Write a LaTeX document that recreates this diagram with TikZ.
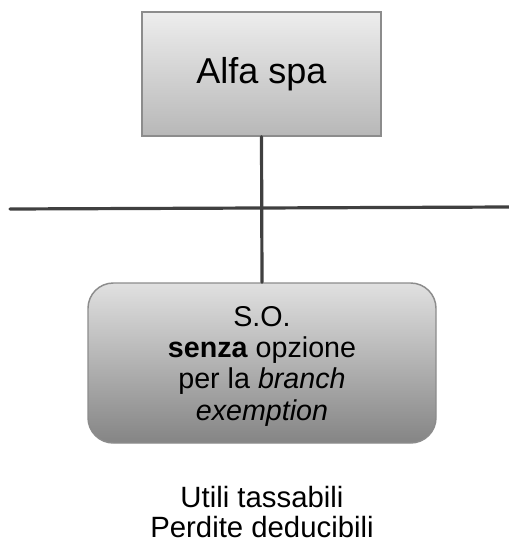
\documentclass[tikz,border=0pt]{standalone}
\usepackage{fontspec}
\setmainfont{Liberation Sans}
\usetikzlibrary{positioning}
\definecolor{lineGray}{HTML}{404040}
\definecolor{edgeGray}{HTML}{8C8C8C}

\begin{document}
\begin{tikzpicture}[x=0.75pt, y=-0.75pt, line cap=round,
    company/.style={draw=edgeGray, line width=1.1pt, inner sep=0pt,
      top color=black!7, bottom color=black!28},
    branch/.style={draw=edgeGray, line width=1.1pt, inner sep=0pt,
      rounded corners=19pt, top color=black!12, bottom color=black!48,
      align=center},
    link/.style={lineGray, line width=2.4pt}]
    \useasboundingbox (0,0) rectangle (509,543);
    \node[company, minimum width=179pt, minimum height=93pt,
      font=\fontsize{27}{31}\selectfont] (alfa) at (261.5,74) {Alfa spa};
    \node[branch, minimum width=261pt, minimum height=120pt, text depth=0pt,
      font=\fontsize{21.5}{23.5}\selectfont] (so) at (262,363)
      {S.O.\\ \textbf{senza} opzione\\ per la \textit{branch}\\ \textit{exemption}};
    \coordinate (barL) at (10,209);
    \coordinate (barR) at (509,207);
    \draw[link] (barL) -- (barR);
    \draw[link] (alfa.south) -- (so.north);
    \node[align=center, font=\fontsize{22}{22.5}\selectfont] (esito) at (262,512)
      {Utili tassabili\\ Perdite deducibili};
\end{tikzpicture}
\end{document}
